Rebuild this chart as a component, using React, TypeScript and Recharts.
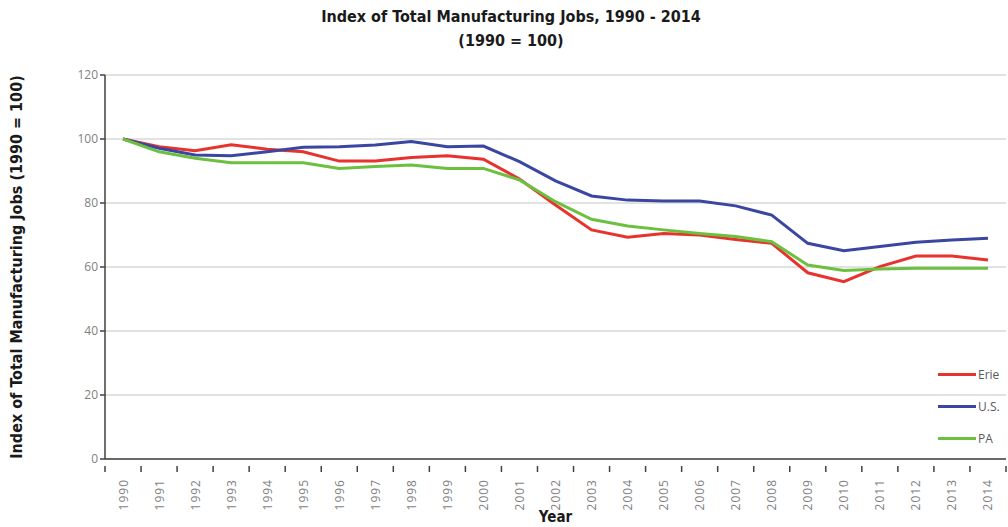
import React from "react";
import { LineChart, Line, XAxis, YAxis, CartesianGrid } from "recharts";

const YEARS = [
  "1990", "1991", "1992", "1993", "1994", "1995", "1996", "1997", "1998", "1999",
  "2000", "2001", "2002", "2003", "2004", "2005", "2006", "2007", "2008", "2009",
  "2010", "2011", "2012", "2013", "2014",
];
const ERIE = [
  100, 97.6, 96.3, 98.2, 96.8, 96, 93.1, 93.1, 94.2, 94.8,
  93.7, 87.5, 79.4, 71.6, 69.3, 70.5, 70, 68.6, 67.4, 58.2,
  55.4, 60.1, 63.4, 63.4, 62.2,
];
const US = [
  100, 97.1, 95, 94.8, 96, 97.4, 97.6, 98.1, 99.2, 97.6,
  97.8, 92.9, 86.9, 82.2, 80.9, 80.6, 80.6, 79.1, 76.2, 67.4,
  65.1, 66.4, 67.7, 68.4, 69,
];
const PA = [
  100, 96, 94, 92.6, 92.6, 92.6, 90.8, 91.4, 91.9, 90.8,
  90.8, 87.2, 80.4, 74.9, 72.8, 71.6, 70.5, 69.5, 67.9, 60.6,
  58.9, 59.4, 59.6, 59.6, 59.6,
];
const Y_TICKS = [0, 20, 40, 60, 80, 100, 120];

const data = YEARS.map((year, i) => ({ year, erie: ERIE[i], us: US[i], pa: PA[i] }));

const W = 1008;
const H = 527;
const LEFT = 105;
const RIGHT = 2;
const TOP = 75;
const X_AXIS_H = 68;
const STEP = (W - LEFT - RIGHT) / YEARS.length;
const AXIS_COLOR = "#404040";
const LABEL_COLOR = "#7f7f7f";
const TITLE_FONT = "'Liberation Sans Narrow', 'DejaVu Sans Condensed', Arial, sans-serif";
const BODY_FONT = "'Open Sans', 'Liberation Sans', sans-serif";

const SERIES = [
  { key: "erie", name: "Erie", color: "#e8322e" },
  { key: "us", name: "U.S.", color: "#3b46a0" },
  { key: "pa", name: "PA", color: "#6cc03f" },
];

function YearTick(props: any) {
  const { x, y, payload, index } = props;
  const left = x - STEP / 2;
  return (
    <g>
      <line x1={left} y1={y - 1} x2={left} y2={y + 5} stroke={AXIS_COLOR} strokeWidth={1.5} />
      {index === YEARS.length - 1 && (
        <line x1={left + STEP} y1={y - 1} x2={left + STEP} y2={y + 5} stroke={AXIS_COLOR} strokeWidth={1.5} />
      )}
      <text
        x={x}
        y={y + 12}
        transform={`rotate(-90 ${x} ${y + 12})`}
        textAnchor="end"
        dominantBaseline="central"
        fontSize={12}
        letterSpacing={1}
        fontFamily={BODY_FONT}
        fill={LABEL_COLOR}
      >
        {payload.value}
      </text>
    </g>
  );
}

export default function App() {
  return (
    <div style={{ position: "absolute", left: 0, top: 0, width: W, height: H, background: "#fff" }}>
      <div
        style={{
          position: "absolute",
          left: 0,
          top: 5,
          width: W,
          textAlign: "center",
          fontFamily: TITLE_FONT,
          fontWeight: "bold",
          fontSize: 16,
          lineHeight: "24px",
          color: "#1a1a1a",
          paddingLeft: 14,
          boxSizing: "border-box",
        }}
      >
        <div>Index of Total Manufacturing Jobs, 1990 - 2014</div>
        <div>(1990 = 100)</div>
      </div>
      <LineChart
        width={W}
        height={H}
        data={data}
        margin={{ top: TOP, right: RIGHT, bottom: 0, left: 0 }}
        style={{ position: "absolute", left: 0, top: 0 }}
      >
        <CartesianGrid vertical={false} stroke="#d9d9d9" strokeWidth={1.5} />
        <XAxis
          dataKey="year"
          interval={0}
          padding={{ left: STEP / 2, right: STEP / 2 }}
          tickLine={false}
          axisLine={{ stroke: AXIS_COLOR, strokeWidth: 1.5 }}
          tick={<YearTick />}
          height={X_AXIS_H}
          label={{
            value: "Year",
            position: "insideBottom",
            offset: 5,
            fontFamily: TITLE_FONT,
            fontWeight: "bold",
            fontSize: 15,
            fill: "#1a1a1a",
          }}
        />
        <YAxis
          domain={[0, 120]}
          ticks={Y_TICKS}
          width={LEFT}
          tickSize={5}
          axisLine={{ stroke: AXIS_COLOR, strokeWidth: 1.5 }}
          tickLine={{ stroke: AXIS_COLOR, strokeWidth: 1.5 }}
          tick={{ fontSize: 12, fontFamily: BODY_FONT, fill: LABEL_COLOR }}
          label={{
            value: "Index of Total Manufacturing Jobs (1990 = 100)",
            angle: -90,
            position: "insideLeft",
            offset: 16,
            style: { textAnchor: "middle" },
            fontFamily: TITLE_FONT,
            fontWeight: "bold",
            fontSize: 16,
            fill: "#1a1a1a",
          }}
        />
        {SERIES.map((s) => (
          <Line
            key={s.key}
            type="linear"
            dataKey={s.key}
            name={s.name}
            stroke={s.color}
            strokeWidth={3}
            dot={false}
            isAnimationActive={false}
          />
        ))}
      </LineChart>
      <div style={{ position: "absolute", left: 938, top: 358 }}>
        {SERIES.map((s) => (
          <div key={s.key} style={{ display: "flex", alignItems: "center", height: 32 }}>
            <div style={{ width: 38, height: 3, background: s.color }} />
            <span style={{ marginLeft: 2, fontSize: 12, fontFamily: BODY_FONT, color: "#595959" }}>{s.name}</span>
          </div>
        ))}
      </div>
    </div>
  );
}
